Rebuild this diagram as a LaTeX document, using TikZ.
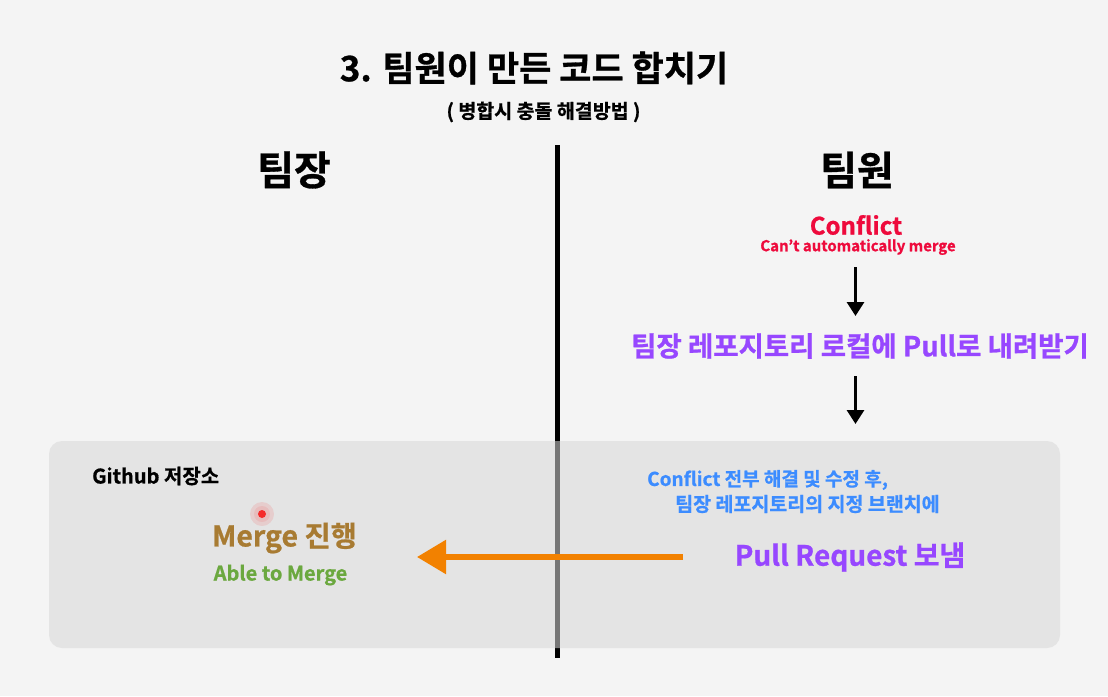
\documentclass[tikz,border=0pt]{standalone}
\usepackage{fontspec}
\setmainfont{Noto Sans CJK KR Bold}[FakeBold=0.8]
\usetikzlibrary{arrows.meta}
\definecolor{bg}{HTML}{F4F4F4}
\definecolor{boxc}{HTML}{D7D7D7}
\definecolor{cred}{HTML}{EE0A3C}
\definecolor{cpurple}{HTML}{9747FF}
\definecolor{cblue}{HTML}{3C8CFF}
\definecolor{cgold}{HTML}{A87B32}
\definecolor{cgreen}{HTML}{6BA83F}
\definecolor{corange}{HTML}{F28100}
\definecolor{cdot}{HTML}{F52A2A}
\newcommand{\fs}[1]{\fontsize{#1}{#1}\selectfont}
\tikzset{
  txt/.style={inner sep=0pt, anchor=center},
  downarrow/.style={line width=3pt, -{Triangle[length=14pt,width=17pt]}, black},
}
\begin{document}
\begin{tikzpicture}[x=1pt,y=-1pt]
\fill[bg] (0,0) rectangle (1108,696);
\useasboundingbox (0,0) rectangle (1108,696);
% divider
\coordinate (dtop) at (557.5,145);
\coordinate (dbot) at (557.5,658);
\draw[line width=5pt, black] (dtop) -- (dbot);
% github box
\fill[boxc, fill opacity=0.55, rounded corners=13pt] (49,441) rectangle (1060,648);
% titles
\node[txt] (title) at (534,68) {\fs{35}3. 팀원이 만든 코드 합치기};
\node[txt] (sub) at (543.5,112) {\fs{19.5}( 병합시 충돌 해결방법 )};
\node[txt] (lead) at (294,170) {\fs{40}팀장};
\node[txt] (member) at (857,170) {\fs{40}팀원};
% right column
\node[txt, text=cred] (conf) at (856,225) {\fs{24}Conflict};
\node[txt, text=cred] (cant) at (858,247) {\fs{15}Can't automatically merge};
\node[txt, text=cpurple] (pull) at (860,346) {\fs{27.5}팀장 레포지토리 로컬에 Pull로 내려받기};
\coordinate (a1s) at (855.5,267);
\coordinate (a1e) at (855.5,316);
\coordinate (a2s) at (855.5,376);
\coordinate (a2e) at (855.5,424);
\draw[downarrow] (a1s) -- (a1e);
\draw[downarrow] (a2s) -- (a2e);
% box content
\node[txt, anchor=west] (gh) at (92,476) {\fs{20}Github 저장소};
\node[txt, text=cblue, anchor=west] (b1) at (647,480) {\fs{19}Conflict 전부 해결 및 수정 후,};
\node[txt, text=cblue, anchor=west] (b2) at (675,504) {\fs{19.5}팀장 레포지토리의 지정 브랜치에};
\node[txt, text=cpurple] (pr) at (850,557) {\fs{28}Pull Request 보냄};
\node[txt, text=cgold] (merge) at (284.5,538) {\fs{28.5}Merge 진행};
\node[txt, text=cgreen] (able) at (280.5,575) {\fs{20}Able to Merge};
% red dot with glow
\fill[cdot, opacity=0.12] (262,514) circle (12pt);
\fill[cdot, opacity=0.10] (262,514) circle (8pt);
\fill[cdot] (262,514) circle (4pt);
% orange arrow
\coordinate (os) at (683,557);
\coordinate (oe) at (417,557);
\draw[corange, line width=5.5pt, -{Triangle[length=29pt,width=33pt]}] (os) -- (oe);
\end{tikzpicture}
\end{document}
